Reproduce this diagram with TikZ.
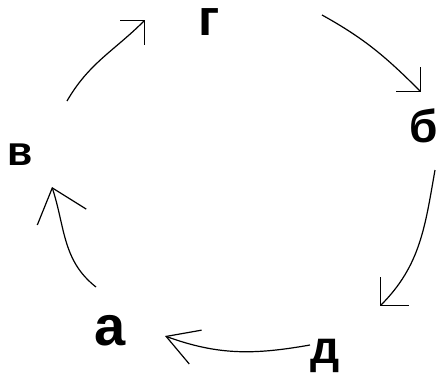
\documentclass[tikz,border=0pt]{standalone}
\usepackage{fontspec}
\setmainfont{Liberation Sans}
\usetikzlibrary{arrows.meta}
\tikzset{
	letter/.style={inner sep=0pt, anchor=base},
	cyc/.style={line width=1.2pt, -{Straight Barb[angle=90:24pt]}},
}

\begin{document}
\begin{tikzpicture}[x=1pt, y=1pt]
	\useasboundingbox (0,0) rectangle (438,373);
	% letters round the cycle
	\node[letter, font=\fontsize{51}{51}\selectfont\bfseries] (g) at (209,337) {г};
	\node[letter, font=\fontsize{46}{46}\selectfont\bfseries] (b) at (424,231) {б};
	\node[letter, font=\fontsize{41}{41}\selectfont\bfseries] (v) at (20,208) {в};
	\node[letter, font=\fontsize{56}{56}\selectfont\bfseries] (a) at (110,28) {а};
	\node[letter, font=\fontsize{46}{46}\selectfont\bfseries] (d) at (325,10) {д};
	% free ends of the arrows
	\coordinate (a-out) at (96,86);  \coordinate (v-in) at (52,186);
	\coordinate (v-out) at (67,272); \coordinate (g-in) at (145,353);
	\coordinate (g-out) at (322,358); \coordinate (b-in) at (421,281);
	\coordinate (b-out) at (435,203); \coordinate (d-in) at (380,67);
	\coordinate (d-out) at (310,28); \coordinate (a-in) at (165,37);
	\draw[cyc, -{Straight Barb[angle=80:40pt]}] (a-out) to[out=142, in=-72] (v-in);
	\draw[cyc] (v-out) to[out=60, in=225] (g-in);
	\draw[cyc] (g-out) to[out=-29, in=135] (b-in);
	\draw[cyc, -{Straight Barb[angle=90:28pt]}] (b-out) to[out=-100, in=45] (d-in);
	\draw[cyc, -{Straight Barb[angle=60:36pt]}] (d-out) to[out=190, in=-20] (a-in);
\end{tikzpicture}
\end{document}
